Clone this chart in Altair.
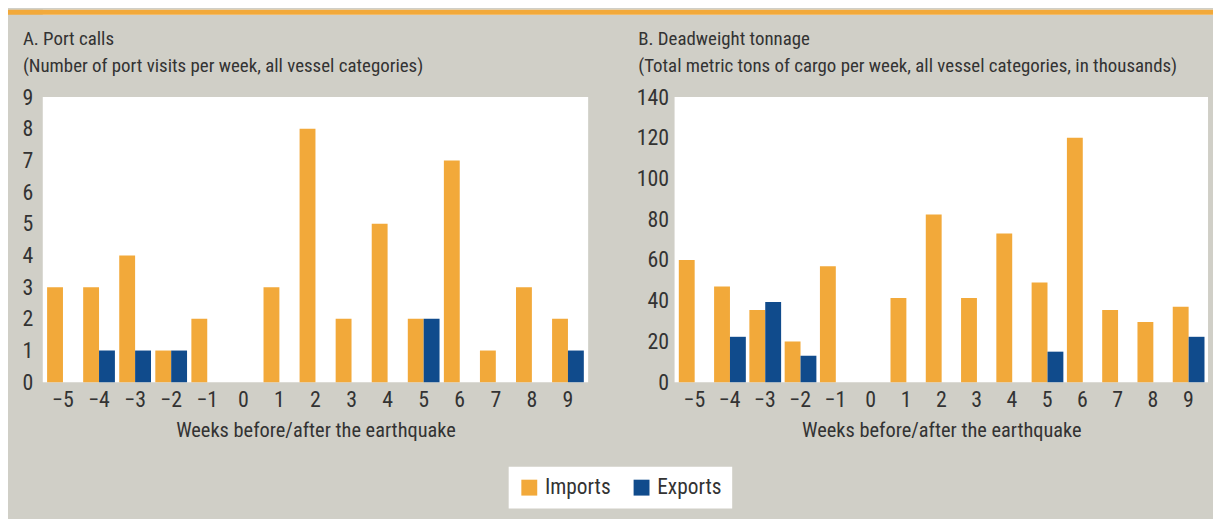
import altair as alt
import pandas as pd

weeks = [-5, -4, -3, -2, -1, 0, 1, 2, 3, 4, 5, 6, 7, 8, 9]
series = ["Imports", "Exports"]

calls_imports = [3, 3, 4, 1, 2, 0, 3, 8, 2, 5, 2, 7, 1, 3, 2]
calls_exports = [0, 1, 1, 1, 0, 0, 0, 0, 0, 0, 2, 0, 0, 0, 1]

dwt_imports = [60, 47, 35.5, 20, 57, 0, 41.3, 82.4, 41.3, 73, 49, 120, 35.5, 29.6, 37]
dwt_exports = [0, 22.3, 39.4, 13, 0, 0, 0, 0, 0, 0, 15, 0, 0, 0, 22.3]

ORANGE = "#F2A93A"
BLUE = "#104B8C"
GREY = "#D0CFC7"
TEXT = "#333333"
FONT = "'Roboto Condensed', 'DejaVu Sans Condensed', 'Liberation Sans Narrow', Roboto, sans-serif"


def frame(imp, exp):
    rows = []
    for w, i, e in zip(weeks, imp, exp):
        rows.append({"week": w, "series": "Imports", "value": i})
        rows.append({"week": w, "series": "Exports", "value": e})
    return pd.DataFrame(rows)


color = alt.Color(
    "series:N",
    sort=series,
    scale=alt.Scale(domain=series, range=[ORANGE, BLUE]),
    legend=alt.Legend(
        title=None, orient="none", legendX=469, legendY=460,
        direction="horizontal", symbolType="square", symbolSize=256,
        symbolStrokeWidth=0, labelFontSize=21.5, labelColor=TEXT, labelFont=FONT,
        fillColor="white", padding=10, columnPadding=20, labelOffset=5,
    ),
)

xaxis = alt.Axis(
    title="Weeks before/after the earthquake", labelAngle=0, ticks=False,
    domain=False, labelPadding=7, labelFontSize=22, titleFontSize=20.5,
    titlePadding=11, titleFontWeight="normal",
    labelExpr="replace(datum.label, '-', '\u2212')",
)


def panel(imp, exp, ymax, yvals, title, subtitle, width, minext, lpad, dx):
    return alt.Chart(frame(imp, exp)).mark_bar().encode(
        x=alt.X("week:O", sort=weeks,
                scale=alt.Scale(paddingInner=0.12, paddingOuter=0.12), axis=xaxis),
        xOffset=alt.XOffset("series:N", sort=series,
                            scale=alt.Scale(paddingInner=0, paddingOuter=0)),
        y=alt.Y("value:Q", scale=alt.Scale(domain=[0, ymax], nice=False),
                axis=alt.Axis(title=None, values=yvals, grid=False, ticks=False,
                              domain=False, labelFontSize=22, labelPadding=lpad,
                              minExtent=minext, maxExtent=minext)),
        color=color,
    ).properties(
        width=width, height=287,
        title=alt.TitleParams(
            text=title, subtitle=subtitle, anchor="start", frame="bounds",
            dx=dx, fontSize=19, subtitleFontSize=19, fontWeight="normal",
            color=TEXT, subtitleColor=TEXT, font=FONT, subtitleFont=FONT,
            subtitlePadding=8, offset=10,
        ),
    )


a = panel(calls_imports, calls_exports, 9, list(range(0, 10)),
          "A. Port calls",
          "(Number of port visits per week, all vessel categories)",
          549, 35, 10, 15)
b = panel(dwt_imports, dwt_exports, 140, list(range(0, 141, 20)),
          "B. Deadweight tonnage",
          "(Total metric tons of cargo per week, all vessel categories, in thousands)",
          537, 38, 6, 2)

strip = alt.Chart(pd.DataFrame({"s": [0]})).mark_rect(color=ORANGE).encode(
    x=alt.value(-35), x2=alt.value(1178), y=alt.value(0), y2=alt.value(5)
).properties(width=1178, height=5)

chart = alt.vconcat(
    strip,
    alt.hconcat(a, b, spacing=48),
    spacing=16,
).properties(
    background=GREY,
    padding={"left": 0, "top": 0, "right": 0, "bottom": 10},
).configure(
    font=FONT
).configure_view(
    fill="white", strokeWidth=0
).configure_axis(
    labelColor=TEXT, titleColor=TEXT, labelFont=FONT, titleFont=FONT
)

chart.save("out.html", embed_options={"renderer": "svg", "actions": False})
